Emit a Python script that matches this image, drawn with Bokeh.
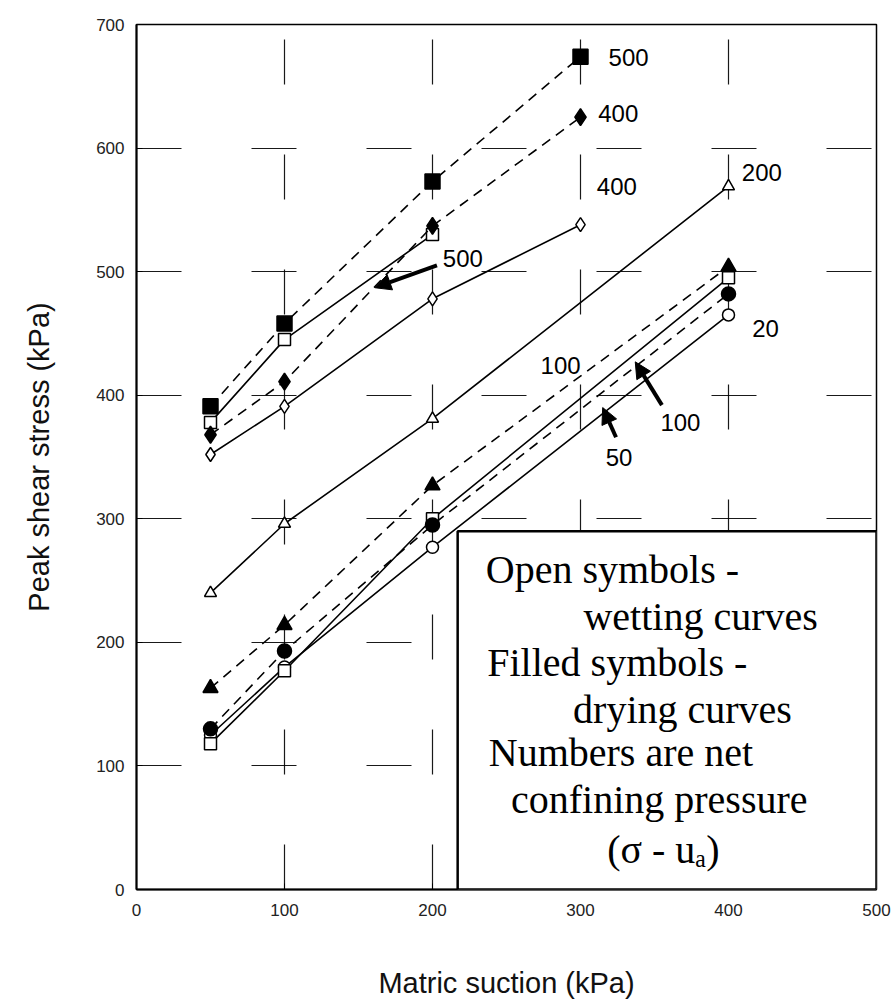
from bokeh.plotting import figure
from bokeh.models import Label, BoxAnnotation, Arrow, NormalHead, FixedTicker
from bokeh.embed import file_html
from bokeh.resources import INLINE

# ---- data (matric suction kPa -> peak shear stress kPa) ----
x_w500 = [50, 100, 200]
y_w500 = [378, 445, 530]
x_d500 = [50, 100, 200, 300]
y_d500 = [391, 458, 573, 674]
x_w400 = [50, 100, 200, 300]
y_w400 = [352, 391, 478, 538]
x_d400 = [50, 100, 200, 300]
y_d400 = [368, 411, 537, 625]
x_w200 = [50, 100, 200, 400]
y_w200 = [240, 296, 381, 569]
x_d100 = [50, 100, 200, 400]
y_d100 = [163, 214, 327, 504]
x_w100 = [50, 100, 200, 400]
y_w100 = [118, 177, 300, 495]
x_d50 = [50, 100, 200, 400]
y_d50 = [130, 193, 295, 482]
x_w20 = [50, 100, 200, 400]
y_w20 = [125, 180, 277, 465]

x_ticks = [0, 100, 200, 300, 400, 500]
y_ticks = [0, 100, 200, 300, 400, 500, 600, 700]

legend_lines = ["Open symbols -", "wetting curves", "Filled symbols -",
                "drying curves", "Numbers are net", "confining pressure",
                "(\u03c3 - u\u2090)"]

p = figure(width=896, height=1001, x_range=(0, 500), y_range=(0, 700),
           output_backend="svg", toolbar_location=None,
           min_border_left=136, min_border_right=20,
           min_border_top=24, min_border_bottom=111)
p.background_fill_color = "white"
p.border_fill_color = "white"
p.outline_line_color = "black"
p.outline_line_width = 1.5

p.xaxis.ticker = FixedTicker(ticks=x_ticks)
p.yaxis.ticker = FixedTicker(ticks=y_ticks)
for ax in (p.xaxis[0], p.yaxis[0]):
    ax.axis_line_width = 2
    ax.axis_line_color = "black"
    ax.major_tick_in = 6
    ax.major_tick_out = 0
    ax.minor_tick_line_color = None
    ax.major_label_text_font = "Liberation Sans"
    ax.major_label_text_font_size = "17px"
    ax.major_label_text_color = "#222222"
    ax.axis_label_text_font = "Liberation Sans"
    ax.axis_label_text_font_style = "normal"
    ax.axis_label_text_font_size = "29px"
    ax.axis_label_text_color = "#111111"
p.xaxis.axis_label = "Matric suction (kPa)"
p.yaxis.axis_label = "Peak shear stress (kPa)"
p.xaxis.major_label_standoff = 14
p.yaxis.major_label_standoff = 12
p.xaxis.axis_label_standoff = 48
p.yaxis.axis_label_standoff = 38

p.grid.grid_line_color = "black"
p.grid.grid_line_width = 1.2
p.grid.grid_line_dash = "45 70"
p.grid.grid_line_alpha = 0.9

dash = "10 7"

def series(xs, ys, marker, filled, dashed, size=13, lw=1.6):
    p.line(xs, ys, line_color="black", line_width=lw,
           line_dash=dash if dashed else "solid")
    p.scatter(xs, ys, marker=marker, size=size, line_color="black",
              line_width=1.5, fill_color="black" if filled else "white")

series(x_w500, y_w500, "square", False, False, 12)
series(x_w400, y_w400, "diamond", False, False, 14)
series(x_d400, y_d400, "diamond", True, True, 17)
series(x_d500, y_d500, "square", True, True, 15)
series(x_w200, y_w200, "triangle", False, False, 12)
series(x_w20, y_w20, "circle", False, False, 12)
series(x_w100, y_w100, "square", False, False, 12)
series(x_d50, y_d50, "circle", True, True, 14)
series(x_d100, y_d100, "triangle", True, True, 15)

# note box
box = BoxAnnotation(left=217, right=500, bottom=0, top=290,
                    fill_color="white", fill_alpha=1.0,
                    line_color="black", line_alpha=1.0, line_width=2.5,
                    level="overlay")
p.add_layout(box)

legend_x = [236, 302, 237, 295, 238, 253, 318]
legend_y = [259, 221, 184, 146, 111, 73, 32]
for t, lx, ly in zip(legend_lines, legend_x, legend_y):
    p.add_layout(Label(x=lx, y=ly, text=t, text_font="Liberation Serif",
                       text_font_size="40px", text_color="black",
                       text_baseline="middle", level="overlay"))

# curve labels (net confining pressure)
curve_labels = ["500", "400", "400", "500", "200", "20", "100", "100", "50"]
label_x = [319, 312, 311, 207, 409, 416, 273, 354, 317]
label_y = [673, 628, 569, 511, 580, 454, 424, 378, 350]
for t, lx, ly in zip(curve_labels, label_x, label_y):
    p.add_layout(Label(x=lx, y=ly, text=t, text_font="Liberation Sans",
                       text_font_size="24px", text_color="black",
                       text_baseline="middle"))

# pointer arrows
arrow_tail_x = [203, 355, 324]
arrow_tail_y = [505, 392, 366]
arrow_head_x = [161, 337, 315]
arrow_head_y = [487, 427, 390]
for tx, ty, hx, hy in zip(arrow_tail_x, arrow_tail_y, arrow_head_x, arrow_head_y):
    p.add_layout(Arrow(x_start=tx, y_start=ty, x_end=hx, y_end=hy,
                       line_color="black", line_width=4,
                       end=NormalHead(size=16, fill_color="black",
                                      line_color="black")))

open("out.html", "w").write(file_html(p, INLINE))
